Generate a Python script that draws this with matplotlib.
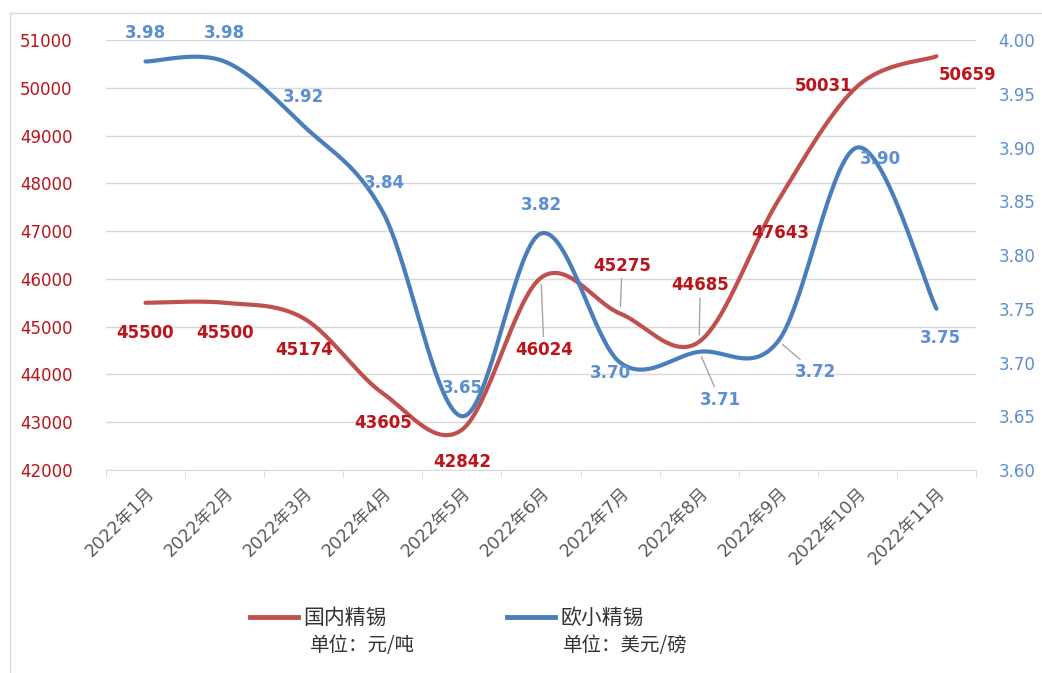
import numpy as np
import matplotlib
matplotlib.use('Agg')
import matplotlib.pyplot as plt
from matplotlib.lines import Line2D

plt.rcParams['font.family'] = ['DejaVu Sans', 'Noto Sans CJK SC']

# data
months = ['2022年1月', '2022年2月', '2022年3月', '2022年4月', '2022年5月', '2022年6月',
          '2022年7月', '2022年8月', '2022年9月', '2022年10月', '2022年11月']
domestic = [45500, 45500, 45174, 43605, 42842, 46024, 45275, 44685, 47643, 50031, 50659]
europe = [3.98, 3.98, 3.92, 3.84, 3.65, 3.82, 3.70, 3.71, 3.72, 3.90, 3.75]
series_names = ['国内精锡', '欧小精锡']
units = ['单位：元/吨', '单位：美元/磅']

# label offsets in pixels (dx, dy) and whether a leader line is drawn
red_offsets = [(0, -30), (0, -30), (0, -32), (0, -30), (0, -32), (3, -72),
               (2, 48), (1, 57), (2, -33), (-34, 0), (31, -19)]
red_leader = [False, False, False, False, False, True, True, True, False, False, False]
blue_offsets = [(0, 28), (0, 28), (0, 29), (2, 29), (0, 28), (0, 28),
                (-10, -10), (21, -48), (37, -31), (23, -12), (4, -29)]
blue_leader = [False, False, False, False, False, False, False, True, True, False, False]

RED_LINE = '#c0504d'
BLUE_LINE = '#4a7ebb'
RED_TXT = '#bb141b'
BLUE_TXT = '#5b8fd0'


def smooth(x, y, n=40):
    """Excel-like smoothed line: Catmull-Rom segments as cubic Bezier curves."""
    p = np.column_stack([x, y]).astype(float)
    p = np.vstack([p[0], p, p[-1]])
    t = np.linspace(0, 1, n)[:, None]
    out = []
    for i in range(1, len(p) - 2):
        p0, p1, p2, p3 = p[i - 1], p[i], p[i + 1], p[i + 2]
        c1 = p1 + (p2 - p0) / 6
        c2 = p2 - (p3 - p1) / 6
        seg = ((1 - t) ** 3) * p1 + 3 * ((1 - t) ** 2) * t * c1 + 3 * (1 - t) * t ** 2 * c2 + t ** 3 * p2
        out.append(seg if i == 1 else seg[1:])
    out = np.vstack(out)
    return out[:, 0], out[:, 1]


fig = plt.figure(figsize=(10.42, 6.73), dpi=100)
ax = fig.add_axes([106 / 1042, 1 - 470 / 673, 870 / 1042, 430 / 673])
ax2 = ax.twinx()

x = np.arange(len(months))

# lines
sx, sy = smooth(x, domestic)
ax.plot(sx, sy, color=RED_LINE, lw=3, solid_capstyle='round', zorder=3)
bx, by = smooth(x, europe)
ax2.plot(bx, by, color=BLUE_LINE, lw=3, solid_capstyle='round', zorder=3)

# axes setup
ax.set_xlim(-0.5, len(months) - 0.5)
ax.set_ylim(42000, 51000)
ax.set_yticks(np.arange(42000, 51001, 1000))
ax2.set_ylim(3.60, 4.00)
ax2.set_yticks(np.arange(3.60, 4.001, 0.05))
ax2.set_yticklabels(['%.2f' % v for v in np.arange(3.60, 4.001, 0.05)])

ax.grid(axis='y', color='#d9d9d9', lw=1)
ax.set_axisbelow(True)
for a in (ax, ax2):
    for s in ['top', 'left', 'right']:
        a.spines[s].set_visible(False)
    a.spines['bottom'].set_color('#d9d9d9')
ax2.spines['bottom'].set_visible(False)

ax.set_xticks(x)
ax.set_xticklabels(months, rotation=45, ha='right', va='top', rotation_mode='anchor',
                   fontsize=12.5, color='#595959')
ax.set_xticks(np.arange(-0.5, len(months), 1), minor=True)
ax.tick_params(axis='x', which='major', length=0, pad=10)
ax.tick_params(axis='x', which='minor', length=5, color='#d9d9d9')
ax.tick_params(axis='y', length=0, pad=24, labelsize=12, labelcolor=RED_TXT)
ax2.tick_params(axis='y', length=0, pad=16, labelsize=12, labelcolor=BLUE_TXT)

# data labels
for i, v in enumerate(domestic):
    dx, dy = red_offsets[i]
    ap = dict(arrowstyle='-', color='#a6a6a6', lw=1, shrinkA=1, shrinkB=5) if red_leader[i] else None
    ax.annotate(str(v), (x[i], v), xytext=(dx, dy), textcoords='offset pixels',
                ha='center', va='center', color=RED_TXT, fontsize=12, fontweight='bold',
                arrowprops=ap, zorder=5)
for i, v in enumerate(europe):
    dx, dy = blue_offsets[i]
    ap = dict(arrowstyle='-', color='#a6a6a6', lw=1, shrinkA=1, shrinkB=4) if blue_leader[i] else None
    ax2.annotate('%.2f' % v, (x[i], v), xytext=(dx, dy), textcoords='offset pixels',
                 ha='center', va='center', color=BLUE_TXT, fontsize=12, fontweight='bold',
                 arrowprops=ap, zorder=5)

# legend: series names on the handle line, units below
handles = [Line2D([], [], color=RED_LINE, lw=3.5), Line2D([], [], color=BLUE_LINE, lw=3.5)]
fig.legend(handles, series_names, loc='center left', bbox_to_anchor=(250 / 1042, 1 - 618 / 673),
           ncol=2, frameon=False, handlelength=2.3, handletextpad=0.25,
           columnspacing=5.8, borderpad=0, borderaxespad=0, labelcolor='#333333',
           prop={'family': ['Noto Sans CJK SC'], 'size': 15})
fig.text(310 / 1042, 1 - 645 / 673, units[0], ha='left', va='center', fontsize=14,
         color='#333333', family=['Noto Sans CJK SC'])
fig.text(563 / 1042, 1 - 645 / 673, units[1], ha='left', va='center', fontsize=14,
         color='#333333', family=['Noto Sans CJK SC'])

# chart area border (top and left visible)
fig.add_artist(Line2D([10 / 1042, 10 / 1042], [0, 1 - 13 / 673], color='#d9d9d9', lw=1,
                      transform=fig.transFigure))
fig.add_artist(Line2D([10 / 1042, 1], [1 - 13 / 673, 1 - 13 / 673], color='#d9d9d9', lw=1,
                      transform=fig.transFigure))

fig.savefig('out.png', dpi=100)
